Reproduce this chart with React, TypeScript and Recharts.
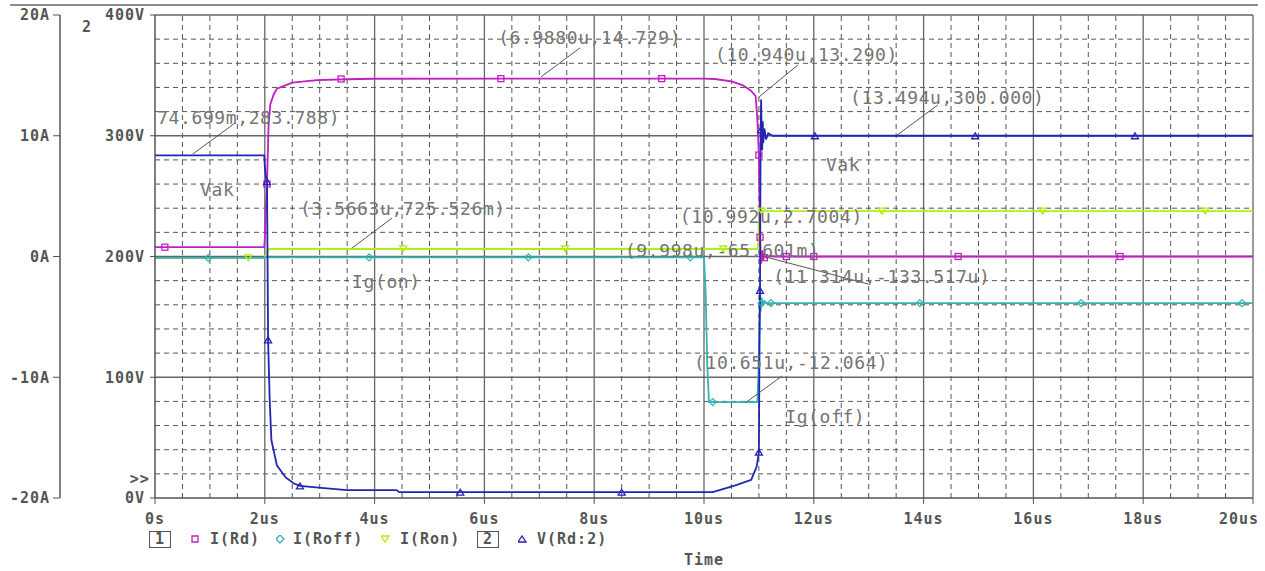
import React from 'react';
import {
  ComposedChart,
  Line,
  Scatter,
  XAxis,
  YAxis,
  ReferenceLine,
  ReferenceDot,
  Legend,
} from 'recharts';

const W = 1265;
const H = 571;

const MAGENTA = '#c020c0';
const CYAN = '#30b4b4';
const GREEN = '#b0f010';
const BLUE = '#2424b4';
const AXIS = '#555';
const NOTE = '#747474';

// time axis in us
const timeTicks = [0, 2, 4, 6, 8, 10, 12, 14, 16, 18, 20];
const timeLabels = ['0s', '2us', '4us', '6us', '8us', '10us', '12us', '14us', '16us', '18us', '20us'];
const ampTicks = [-20, -10, 0, 10, 20];
const ampLabels = ['-20A', '-10A', '0A', '10A', '20A'];
const voltTicks = [0, 100, 200, 300, 400];
const voltLabels = ['0V', '100V', '200V', '300V', '400V'];

// traces: [time us, value]
const iRd: [number, number][] = [
  [0, 0.77], [1.99, 0.77], [2.0, 1.5], [2.02, 4], [2.04, 6.0], [2.07, 11], [2.1, 12.6],
  [2.16, 13.4], [2.22, 13.9], [2.5, 14.4], [2.95, 14.6], [3.5, 14.68], [4, 14.72],
  [10.0, 14.73], [10.2, 14.7], [10.5, 14.5], [10.7, 14.2], [10.85, 13.75], [10.94, 13.29],
  [10.97, 11.5], [11.0, 8.4], [11.02, 1.6], [11.04, -0.6], [11.06, 0.5], [11.08, -0.3],
  [11.1, 0.2], [11.14, -0.1], [11.2, 0.05], [11.3, 0], [20, 0],
];
const iRoff: [number, number][] = [
  [0, -0.12], [1.99, -0.12], [2.0, -0.07], [10.0, -0.07], [10.03, -3], [10.06, -9],
  [10.09, -12.06], [10.97, -12.06], [10.99, -10], [11.01, -5.5], [11.02, -2.8], [11.03, -4.6],
  [11.05, -3.4], [11.07, -4.1], [11.1, -3.7], [11.15, -3.9], [11.25, -3.86], [20, -3.86],
];
const iRon: [number, number][] = [
  [0, -0.12], [1.99, -0.12], [2.03, 0.3], [2.08, 0.62], [10.98, 0.62], [10.99, 1.5],
  [10.995, 2.7], [11.01, 3.76], [20, 3.76],
];
const vRd: [number, number][] = [
  [0, 283.8], [1.99, 283.8], [2.0, 275], [2.02, 266], [2.04, 262], [2.06, 131], [2.09, 80],
  [2.12, 48], [2.22, 27], [2.38, 17], [2.53, 12], [2.64, 10], [3.03, 8.3], [3.5, 6.6],
  [4.4, 6.6], [4.45, 4.8], [10.16, 4.8], [10.42, 8.3], [10.6, 10.8], [10.86, 15],
  [10.96, 26], [11.0, 38], [11.01, 120], [11.02, 172], [11.03, 290], [11.04, 330],
  [11.05, 305], [11.06, 288], [11.07, 312], [11.08, 294], [11.1, 306], [11.13, 297],
  [11.17, 302], [11.25, 300], [20, 300],
];

// trace markers
const rdMarks: [number, number][] = [
  [0.18, 0.77], [2.04, 6.0], [3.39, 14.7], [6.3, 14.73], [9.23, 14.73], [11.0, 8.4],
  [11.02, 1.6], [11.1, -0.1], [11.5, 0], [12.0, 0], [14.63, 0], [17.58, 0],
];
const roffMarks: [number, number][] = [
  [0.97, -0.12], [3.9, -0.07], [6.8, -0.07], [9.75, -0.07], [10.16, -12.06], [11.05, -3.86],
  [11.22, -3.86], [13.93, -3.86], [16.87, -3.86], [19.8, -3.86],
];
const ronMarks: [number, number][] = [
  [1.7, -0.12], [4.52, 0.62], [7.47, 0.62], [10.35, 0.62], [11.05, 3.76], [13.24, 3.76],
  [16.17, 3.76], [19.13, 3.76],
];
const vMarks: [number, number][] = [
  [2.04, 262], [2.06, 131], [2.64, 10], [5.56, 4.8], [8.5, 4.8], [11.0, 38], [11.02, 172],
  [11.04, 305], [12.02, 300], [14.94, 300], [17.85, 300],
];

// cursor notes, placed in (us, V)
const notes: { t: number; v: number; text: string }[] = [
  { t: 6.25, v: 381, text: '(6.9880u,14.729)' },
  { t: 10.2, v: 367, text: '(10.940u,13.290)' },
  { t: 12.66, v: 332, text: '(13.494u,300.000)' },
  { t: 0.04, v: 315, text: '74.699m,283.788)' },
  { t: 0.82, v: 255, text: 'Vak' },
  { t: 2.64, v: 240, text: '(3.5663u,725.526m)' },
  { t: 3.59, v: 179, text: 'Ig(on)' },
  { t: 9.56, v: 233, text: '(10.992u,2.7004)' },
  { t: 8.56, v: 205, text: '(9.998u,-65.601m)' },
  { t: 11.26, v: 183, text: '(11.314u,-133.517u)' },
  { t: 9.82, v: 112, text: '(10.651u,-12.064)' },
  { t: 12.22, v: 276, text: 'Vak' },
  { t: 11.48, v: 67, text: 'Ig(off)' },
];
const leaders: [number, number, number, number][] = [
  [7.03, 348.7, 7.74, 372.7],
  [10.98, 331.3, 11.71, 358.6],
  [13.52, 300.6, 14.26, 325.5],
  [0.69, 284.9, 1.46, 310.6],
  [3.59, 207, 4.32, 231.9],
  [11.06, 200.4, 12.99, 177.2],
  [10.75, 78.7, 11.42, 101],
];

const pts = (a: [number, number][]) => a.map(([t, y]) => ({ t, y }));

const minorTimes = Array.from({ length: 41 }, (_, i) => i * 0.5).filter((v) => v % 2 !== 0);
const minorVolts = Array.from({ length: 21 }, (_, i) => i * 20).filter((v) => v % 100 !== 0);
const majorTimes = timeTicks.slice(1);
const majorVolts = voltTicks.slice(1);

const axisFont = {
  fontFamily: 'DejaVu Sans Mono',
  fontWeight: 'bold',
  fontSize: 15,
  fill: AXIS,
  letterSpacing: 1,
};
const noteFont = {
  fontFamily: 'DejaVu Sans Mono',
  fontSize: 18,
  fill: NOTE,
  letterSpacing: 0.6,
};

const square = (color: string) => (p: any) => (
  <rect x={p.cx - 3} y={p.cy - 3} width={6} height={6} fill="none" stroke={color} strokeWidth={1.3} />
);
const diamond = (color: string) => (p: any) => (
  <path d={`M${p.cx},${p.cy - 3.5}L${p.cx + 3.5},${p.cy}L${p.cx},${p.cy + 3.5}L${p.cx - 3.5},${p.cy}Z`} fill="none" stroke={color} strokeWidth={1.2} />
);
const triDown = (color: string) => (p: any) => (
  <path d={`M${p.cx - 3.5},${p.cy - 3}L${p.cx + 3.5},${p.cy - 3}L${p.cx},${p.cy + 3}Z`} fill="none" stroke={color} strokeWidth={1.3} />
);
const triUp = (color: string) => (p: any) => (
  <path d={`M${p.cx - 3.5},${p.cy + 3}L${p.cx + 3.5},${p.cy + 3}L${p.cx},${p.cy - 3}Z`} fill="none" stroke={color} strokeWidth={1.3} />
);

// last time label sits inside the right edge, as in the original plot
const TimeTick = (p: any) => {
  const last = p.index === timeTicks.length - 1;
  return (
    <text x={p.x - (last ? 14 : 0)} y={p.y} dy="0.71em" textAnchor="middle" {...axisFont}>
      {timeLabels[p.index]}
    </text>
  );
};

const legendText: React.CSSProperties = {
  position: 'absolute',
  fontFamily: 'DejaVu Sans Mono',
  fontWeight: 'bold',
  fontSize: 15,
  letterSpacing: 1,
  color: AXIS,
  top: 2,
  whiteSpace: 'nowrap',
};
const boxStyle: React.CSSProperties = {
  ...legendText,
  top: 3,
  width: 20,
  height: 15,
  border: `1.5px solid ${AXIS}`,
  textAlign: 'center',
  lineHeight: '15px',
};

const LegendIcon = ({ left, kind, color }: { left: number; kind: string; color: string }) => {
  const d: Record<string, string> = {
    sq: 'M1,1H7V7H1Z',
    di: 'M4,0L8,4L4,8L0,4Z',
    dn: 'M0,1H8L4,7Z',
    up: 'M0,7H8L4,1Z',
  };
  return (
    <svg style={{ position: 'absolute', left, top: 7 }} width={9} height={9}>
      <path d={d[kind]} fill="none" stroke={color} strokeWidth={1.3} />
    </svg>
  );
};

const PSpiceLegend = () => (
  <div style={{ position: 'relative', width: W, height: 24 }}>
    <div style={{ ...boxStyle, left: 149 }}>1</div>
    <LegendIcon left={191} kind="sq" color={MAGENTA} />
    <span style={{ ...legendText, left: 210 }}>I(Rd)</span>
    <LegendIcon left={276} kind="di" color={CYAN} />
    <span style={{ ...legendText, left: 293 }}>I(Roff)</span>
    <LegendIcon left={381} kind="dn" color={GREEN} />
    <span style={{ ...legendText, left: 400 }}>I(Ron)</span>
    <div style={{ ...boxStyle, left: 477 }}>2</div>
    <LegendIcon left={518} kind="up" color={BLUE} />
    <span style={{ ...legendText, left: 537 }}>V(Rd:2)</span>
  </div>
);

export default function App() {
  return (
    <div style={{ position: 'absolute', left: 0, top: 0, width: W, height: H, background: '#fff' }}>
      <div style={{ position: 'absolute', left: 10, top: 4, width: 1248, borderTop: '2px solid #8a8a8a' }} />
      <ComposedChart width={W} height={H} margin={{ top: 15, right: 12, bottom: 0, left: 0 }}>
        <XAxis
          dataKey="t"
          type="number"
          domain={[0, 20]}
          ticks={timeTicks}
          allowDataOverflow
          height={73}
          tickSize={6}
          tickMargin={9}
          axisLine={{ stroke: AXIS, strokeWidth: 1.5 }}
          tickLine={{ stroke: AXIS }}
          tick={TimeTick}
          label={{ value: 'Time', position: 'insideBottom', offset: 6, ...axisFont }}
        />
        <YAxis
          yAxisId="v"
          type="number"
          domain={[0, 400]}
          ticks={voltTicks}
          tickFormatter={(_v: number, i: number) => voltLabels[i]}
          allowDataOverflow
          width={95}
          tickSize={5}
          tickMargin={5}
          axisLine={{ stroke: AXIS, strokeWidth: 1.5 }}
          tickLine={{ stroke: AXIS }}
          tick={axisFont}
        />
        <YAxis
          yAxisId="z"
          type="number"
          domain={[-20, 20]}
          ticks={ampTicks}
          tickFormatter={(_v: number, i: number) => ampLabels[i]}
          allowDataOverflow
          width={60}
          tickSize={7}
          tickMargin={3}
          axisLine={{ stroke: AXIS, strokeWidth: 1.5 }}
          tickLine={{ stroke: AXIS }}
          tick={axisFont}
        />

        {minorTimes.map((t) => (
          <ReferenceLine key={`mt${t}`} x={t} yAxisId="v" stroke="#555" strokeDasharray="5 4" />
        ))}
        {minorVolts.map((v) => (
          <ReferenceLine key={`mv${v}`} y={v} yAxisId="v" stroke="#555" strokeDasharray="5 4" />
        ))}
        {majorTimes.map((t) => (
          <ReferenceLine key={`Mt${t}`} x={t} yAxisId="v" stroke="#666" strokeWidth={1.3} />
        ))}
        {majorVolts.map((v) => (
          <ReferenceLine key={`Mv${v}`} y={v} yAxisId="v" stroke="#666" strokeWidth={1.3} />
        ))}

        <Line yAxisId="z" data={pts(iRon)} dataKey="y" stroke={GREEN} strokeWidth={1.8} dot={false} isAnimationActive={false} />
        <Line yAxisId="z" data={pts(iRoff)} dataKey="y" stroke={CYAN} strokeWidth={1.8} dot={false} isAnimationActive={false} />
        <Line yAxisId="z" data={pts(iRd)} dataKey="y" stroke={MAGENTA} strokeWidth={1.8} dot={false} isAnimationActive={false} />
        <Line yAxisId="v" data={pts(vRd)} dataKey="y" stroke={BLUE} strokeWidth={1.8} dot={false} isAnimationActive={false} />

        <Scatter yAxisId="z" data={pts(ronMarks)} dataKey="y" shape={triDown(GREEN)} isAnimationActive={false} />
        <Scatter yAxisId="z" data={pts(roffMarks)} dataKey="y" shape={diamond(CYAN)} isAnimationActive={false} />
        <Scatter yAxisId="z" data={pts(rdMarks)} dataKey="y" shape={square(MAGENTA)} isAnimationActive={false} />
        <Scatter yAxisId="v" data={pts(vMarks)} dataKey="y" shape={triUp(BLUE)} isAnimationActive={false} />

        {leaders.map(([t1, v1, t2, v2], i) => (
          <ReferenceLine
            key={`ld${i}`}
            yAxisId="v"
            segment={[{ x: t1, y: v1 }, { x: t2, y: v2 }]}
            stroke="#555"
            strokeWidth={1}
          />
        ))}
        {notes.map((n, i) => (
          <ReferenceDot
            key={`nt${i}`}
            yAxisId="v"
            x={n.t}
            y={n.v}
            r={0}
            fill="none"
            stroke="none"
            label={{ value: n.text, position: 'right', offset: 0, ...noteFont }}
          />
        ))}
        <ReferenceDot
          yAxisId="v"
          x={-1.33}
          y={390}
          r={0}
          fill="none"
          stroke="none"
          ifOverflow="visible"
          label={{ value: '2', position: 'right', offset: 0, ...axisFont }}
        />
        <ReferenceDot
          yAxisId="v"
          x={-0.46}
          y={16}
          r={0}
          fill="none"
          stroke="none"
          ifOverflow="visible"
          label={{ value: '>>', position: 'right', offset: 0, ...axisFont }}
        />

        <Legend
          verticalAlign="middle"
          layout="horizontal"
          align="center"
          wrapperStyle={{ left: 0, top: 528, width: W }}
          content={() => <PSpiceLegend />}
        />
      </ComposedChart>
    </div>
  );
}
